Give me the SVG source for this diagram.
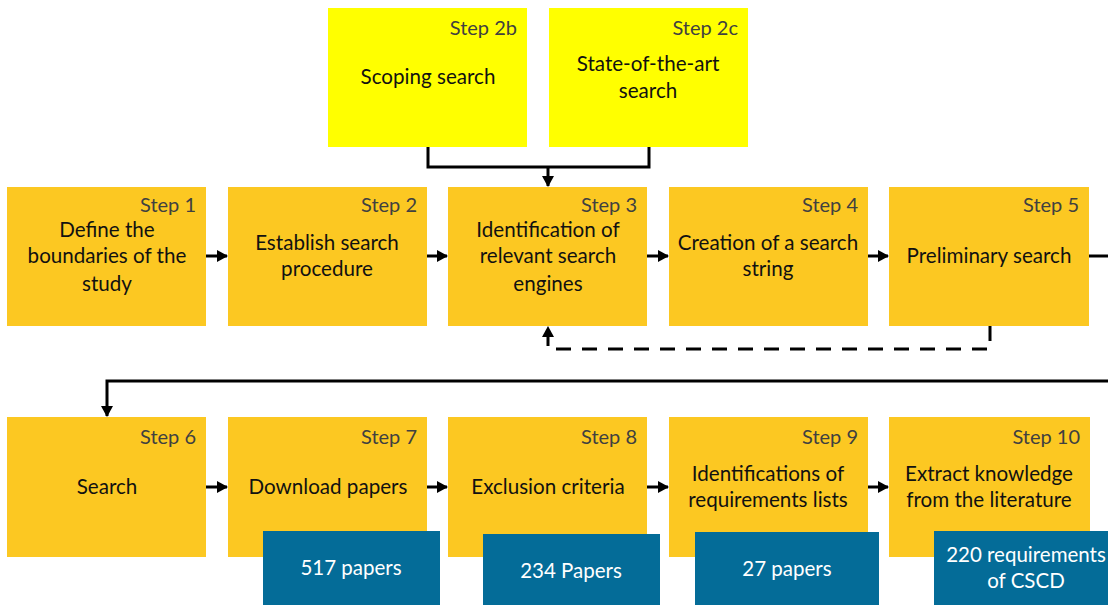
<svg xmlns="http://www.w3.org/2000/svg" width="1108" height="605" viewBox="0 0 1108 605">
  <style>
    .step { fill: #FCC822; }
    .side { fill: #FFFF00; }
    .count { fill: #046C98; }
    .lbl { font-family: Lato, "Liberation Sans", sans-serif; font-size: 20px; fill: #404040; text-anchor: end; }
    .txt { font-family: Lato, "Liberation Sans", sans-serif; font-size: 20.6px; fill: #111111; text-anchor: middle; }
    .num { font-family: Lato, "Liberation Sans", sans-serif; font-size: 20.5px; fill: #FFFFFF; text-anchor: middle; }
    .wire { fill: none; stroke: #000000; stroke-width: 3; }
    .dash { stroke-dasharray: 15 11; }
  </style>
  <defs>
    <marker id="head" markerUnits="userSpaceOnUse" markerWidth="12" markerHeight="12" refX="10" refY="6" orient="auto">
      <path d="M0,0 L11,6 L0,12 Z" fill="#000000"/>
    </marker>
  </defs>
  <rect width="1108" height="605" fill="#FFFFFF"/>

  <!-- side searches -->
  <g id="step2b">
    <rect class="side" x="328" y="8" width="199" height="139"/>
    <text class="lbl" x="517" y="35">Step 2b</text>
    <text class="txt" x="428" y="84">Scoping search</text>
  </g>
  <g id="step2c">
    <rect class="side" x="549" y="8" width="199" height="139"/>
    <text class="lbl" x="738" y="35">Step 2c</text>
    <text class="txt" x="648" y="71">State-of-the-art</text>
    <text class="txt" x="648" y="98">search</text>
  </g>

  <!-- first row -->
  <g id="step1">
    <rect class="step" x="7" y="187" width="199" height="139"/>
    <text class="lbl" x="196" y="212">Step 1</text>
    <text class="txt" x="107" y="237">Define the</text>
    <text class="txt" x="107" y="263">boundaries of the</text>
    <text class="txt" x="107" y="291">study</text>
  </g>
  <g id="step2">
    <rect class="step" x="228" y="187" width="199" height="139"/>
    <text class="lbl" x="417" y="212">Step 2</text>
    <text class="txt" x="327" y="250">Establish search</text>
    <text class="txt" x="327" y="276">procedure</text>
  </g>
  <g id="step3">
    <rect class="step" x="448" y="187" width="199" height="139"/>
    <text class="lbl" x="637" y="212">Step 3</text>
    <text class="txt" x="548" y="237">Identification of</text>
    <text class="txt" x="548" y="263">relevant search</text>
    <text class="txt" x="548" y="291">engines</text>
  </g>
  <g id="step4">
    <rect class="step" x="669" y="187" width="199" height="139"/>
    <text class="lbl" x="858" y="212">Step 4</text>
    <text class="txt" x="768" y="250">Creation of a search</text>
    <text class="txt" x="768" y="276">string</text>
  </g>
  <g id="step5">
    <rect class="step" x="889" y="187" width="200" height="139"/>
    <text class="lbl" x="1079" y="212">Step 5</text>
    <text class="txt" x="989" y="263">Preliminary search</text>
  </g>

  <!-- second row -->
  <g id="step6">
    <rect class="step" x="7" y="417" width="199" height="140"/>
    <text class="lbl" x="196" y="444">Step 6</text>
    <text class="txt" x="107" y="494">Search</text>
  </g>
  <g id="step7">
    <rect class="step" x="228" y="417" width="199" height="140"/>
    <text class="lbl" x="417" y="444">Step 7</text>
    <text class="txt" x="328" y="494">Download papers</text>
  </g>
  <g id="step8">
    <rect class="step" x="448" y="417" width="199" height="140"/>
    <text class="lbl" x="637" y="444">Step 8</text>
    <text class="txt" x="548" y="494">Exclusion criteria</text>
  </g>
  <g id="step9">
    <rect class="step" x="669" y="417" width="199" height="140"/>
    <text class="lbl" x="858" y="444">Step 9</text>
    <text class="txt" x="768" y="481">Identifications of</text>
    <text class="txt" x="768" y="507">requirements lists</text>
  </g>
  <g id="step10">
    <rect class="step" x="889" y="417" width="201" height="140"/>
    <text class="lbl" x="1080" y="444">Step 10</text>
    <text class="txt" x="989" y="481">Extract knowledge</text>
    <text class="txt" x="989" y="507">from the literature</text>
  </g>

  <!-- result counts -->
  <g id="count7">
    <rect class="count" x="263" y="531" width="177" height="74"/>
    <text class="num" x="351" y="575">517 papers</text>
  </g>
  <g id="count8">
    <rect class="count" x="483" y="534" width="177" height="71"/>
    <text class="num" x="571" y="578">234 Papers</text>
  </g>
  <g id="count9">
    <rect class="count" x="695" y="532" width="184" height="73"/>
    <text class="num" x="787" y="576">27 papers</text>
  </g>
  <g id="count10">
    <rect class="count" x="934" y="531" width="174" height="74"/>
    <text class="num" x="1026" y="562">220 requirements</text>
    <text class="num" x="1026" y="588">of CSCD</text>
  </g>

  <!-- connectors -->
  <g id="connectors">
    <path class="wire" d="M428,147 V167 H649 V147"/>
    <path class="wire" d="M548,167 V186" marker-end="url(#head)"/>
    <path class="wire" d="M206,256 H227" marker-end="url(#head)"/>
    <path class="wire" d="M427,256 H447" marker-end="url(#head)"/>
    <path class="wire" d="M647,256 H668" marker-end="url(#head)"/>
    <path class="wire" d="M868,256 H888" marker-end="url(#head)"/>
    <path class="wire" d="M1089,256 H1108"/>
    <path class="wire dash" d="M990,326 V349 H548 V327" marker-end="url(#head)"/>
    <path class="wire" d="M1108,381 H107 V416" marker-end="url(#head)"/>
    <path class="wire" d="M206,487 H227" marker-end="url(#head)"/>
    <path class="wire" d="M427,487 H447" marker-end="url(#head)"/>
    <path class="wire" d="M647,487 H668" marker-end="url(#head)"/>
    <path class="wire" d="M868,487 H888" marker-end="url(#head)"/>
  </g>
</svg>
